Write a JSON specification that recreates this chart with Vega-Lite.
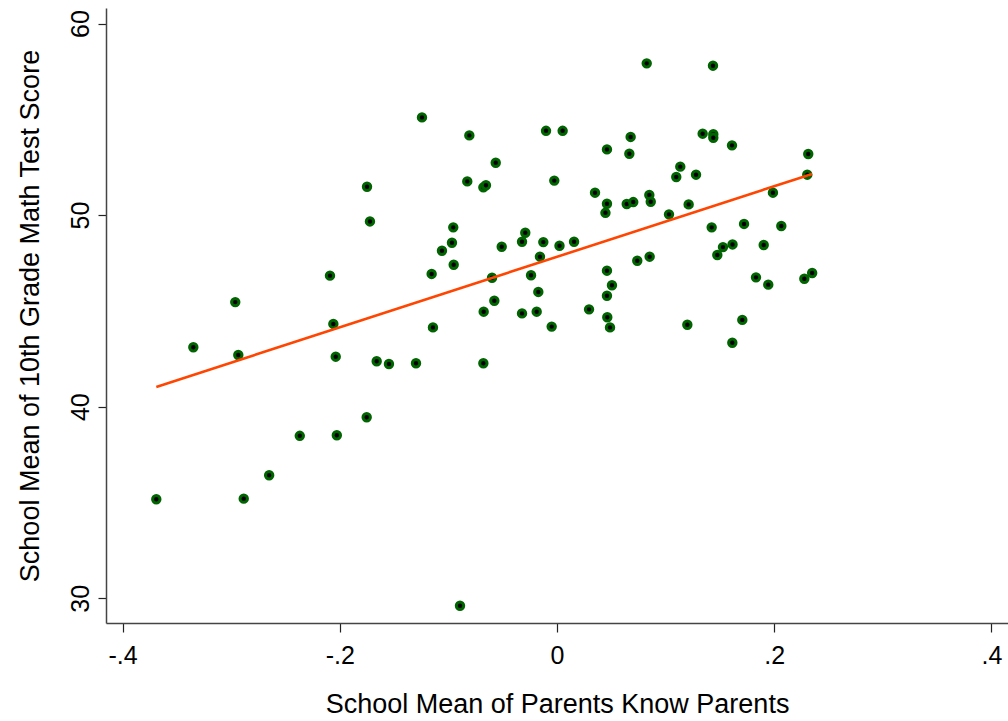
{
  "$schema": "https://vega.github.io/schema/vega-lite/v6.json",
  "width": 902,
  "height": 615,
  "autosize": {"type": "none"},
  "padding": {"left": 106, "top": 8, "right": 0, "bottom": 98},
  "background": "white",
  "config": {
    "view": {"stroke": null},
    "font": "Liberation Sans",
    "axis": {
      "grid": false,
      "domainColor": "#444444",
      "domainWidth": 1.5,
      "tickColor": "#222222",
      "tickWidth": 1.2,
      "labelColor": "black",
      "titleColor": "black",
      "labelFont": "Liberation Sans",
      "titleFont": "Liberation Sans",
      "titleFontWeight": "normal",
      "labelFontSize": 25,
      "titleFontSize": 27
    }
  },
  "datasets": {
    "schools": [
      {"pk": -0.3689, "math": 35.17},
      {"pk": -0.3348, "math": 43.10},
      {"pk": -0.2962, "math": 45.46},
      {"pk": -0.2934, "math": 42.70},
      {"pk": -0.2884, "math": 35.20},
      {"pk": -0.2650, "math": 36.42},
      {"pk": -0.2368, "math": 38.48},
      {"pk": -0.2090, "math": 46.84},
      {"pk": -0.2059, "math": 44.32},
      {"pk": -0.2037, "math": 42.61},
      {"pk": -0.2027, "math": 38.51},
      {"pk": -0.1752, "math": 39.45},
      {"pk": -0.1749, "math": 51.48},
      {"pk": -0.1722, "math": 49.67},
      {"pk": -0.1660, "math": 42.37},
      {"pk": -0.1547, "math": 42.23},
      {"pk": -0.1298, "math": 42.27},
      {"pk": -0.1243, "math": 55.10},
      {"pk": -0.1154, "math": 46.93},
      {"pk": -0.1142, "math": 44.14},
      {"pk": -0.1059, "math": 48.14},
      {"pk": -0.0967, "math": 48.56},
      {"pk": -0.0955, "math": 49.36},
      {"pk": -0.0951, "math": 47.41},
      {"pk": -0.0893, "math": 29.61},
      {"pk": -0.0826, "math": 51.76},
      {"pk": -0.0807, "math": 54.16},
      {"pk": -0.0678, "math": 51.45},
      {"pk": -0.0654, "math": 51.56},
      {"pk": -0.0675, "math": 44.96},
      {"pk": -0.0678, "math": 42.27},
      {"pk": -0.0598, "math": 46.73},
      {"pk": -0.0577, "math": 45.53},
      {"pk": -0.0564, "math": 52.73},
      {"pk": -0.0509, "math": 48.35},
      {"pk": -0.0322, "math": 48.61},
      {"pk": -0.0292, "math": 49.08},
      {"pk": -0.0322, "math": 44.87},
      {"pk": -0.0239, "math": 46.86},
      {"pk": -0.0187, "math": 44.96},
      {"pk": -0.0172, "math": 45.99},
      {"pk": -0.0157, "math": 47.83},
      {"pk": -0.0126, "math": 48.59},
      {"pk": -0.0101, "math": 54.40},
      {"pk": -0.0049, "math": 44.18},
      {"pk": -0.0025, "math": 51.80},
      {"pk": 0.0023, "math": 48.40},
      {"pk": 0.0052, "math": 54.40},
      {"pk": 0.0157, "math": 48.61},
      {"pk": 0.0295, "math": 45.08},
      {"pk": 0.0350, "math": 51.17},
      {"pk": 0.0460, "math": 53.43},
      {"pk": 0.0460, "math": 50.59},
      {"pk": 0.0446, "math": 50.12},
      {"pk": 0.0460, "math": 47.10},
      {"pk": 0.0506, "math": 46.34},
      {"pk": 0.0460, "math": 45.79},
      {"pk": 0.0463, "math": 44.67},
      {"pk": 0.0488, "math": 44.14},
      {"pk": 0.0642, "math": 50.58},
      {"pk": 0.0666, "math": 53.20},
      {"pk": 0.0678, "math": 54.08},
      {"pk": 0.0702, "math": 50.68},
      {"pk": 0.0739, "math": 47.62},
      {"pk": 0.0826, "math": 57.92},
      {"pk": 0.0850, "math": 51.05},
      {"pk": 0.0863, "math": 50.70},
      {"pk": 0.0853, "math": 47.83},
      {"pk": 0.1031, "math": 50.04},
      {"pk": 0.1098, "math": 51.99},
      {"pk": 0.1135, "math": 52.53},
      {"pk": 0.1200, "math": 44.28},
      {"pk": 0.1212, "math": 50.56},
      {"pk": 0.1280, "math": 52.11},
      {"pk": 0.1341, "math": 54.25},
      {"pk": 0.1424, "math": 49.36},
      {"pk": 0.1436, "math": 57.80},
      {"pk": 0.1439, "math": 54.22},
      {"pk": 0.1439, "math": 54.04},
      {"pk": 0.1476, "math": 47.92},
      {"pk": 0.1528, "math": 48.33},
      {"pk": 0.1616, "math": 48.47},
      {"pk": 0.1611, "math": 53.64},
      {"pk": 0.1614, "math": 43.34},
      {"pk": 0.1706, "math": 44.53},
      {"pk": 0.1722, "math": 49.54},
      {"pk": 0.1832, "math": 46.75},
      {"pk": 0.1903, "math": 48.44},
      {"pk": 0.1945, "math": 46.37},
      {"pk": 0.1988, "math": 51.17},
      {"pk": 0.2065, "math": 49.43},
      {"pk": 0.2277, "math": 46.68},
      {"pk": 0.2304, "math": 52.11},
      {"pk": 0.2313, "math": 53.19},
      {"pk": 0.2349, "math": 46.98}
    ],
    "fit": [
      {"pk": -0.3689, "fitted": 41.03},
      {"pk": 0.2349, "fitted": 52.15}
    ]
  },
  "layer": [
    {
      "data": {"name": "schools"},
      "mark": {"type": "point", "shape": "circle", "filled": true, "fill": "black", "stroke": "#006400", "strokeWidth": 3, "size": 55, "opacity": 1},
      "encoding": {
        "x": {
          "field": "pk", "type": "quantitative",
          "scale": {"domain": [-0.4152, 0.4152], "nice": false, "zero": false},
          "axis": {
            "values": [-0.4, -0.2, 0, 0.2, 0.4],
            "labelExpr": "datum.value == 0 ? '0' : replace(replace(format(datum.value, '.1f'), '0.', '.'), '\u2212', '-')",
            "tickSize": 9,
            "labelPadding": 11,
            "title": "School Mean of Parents Know Parents",
            "titlePadding": 23
          }
        },
        "y": {
          "field": "math", "type": "quantitative",
          "scale": {"domain": [28.71, 60.81], "nice": false, "zero": false},
          "axis": {
            "values": [30, 40, 50, 60],
            "labelAngle": -90,
            "labelAlign": "center",
            "labelBaseline": "bottom",
            "tickSize": 8,
            "labelPadding": 5,
            "title": "School Mean of 10th Grade Math Test Score",
            "titlePadding": 24
          }
        }
      }
    },
    {
      "data": {"name": "fit"},
      "mark": {"type": "line", "color": "#FF4500", "strokeWidth": 2.6},
      "encoding": {
        "x": {"field": "pk", "type": "quantitative"},
        "y": {"field": "fitted", "type": "quantitative"}
      }
    }
  ]
}
